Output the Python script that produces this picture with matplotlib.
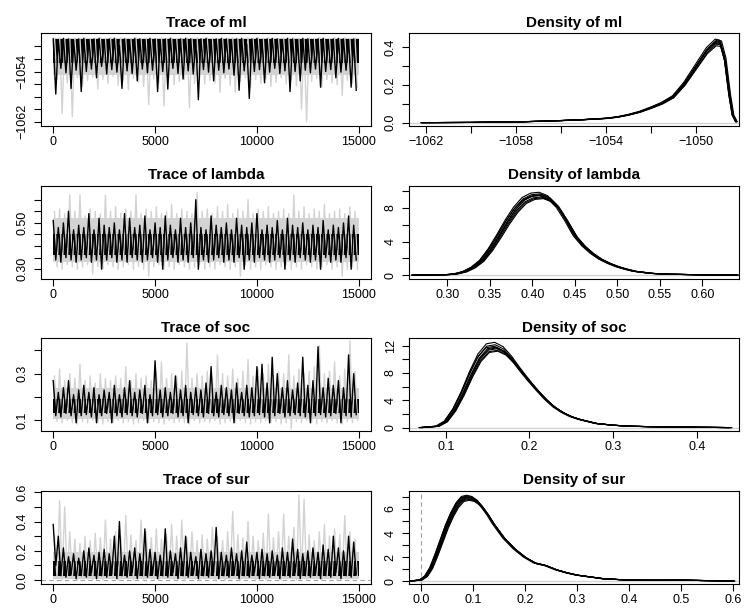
import numpy as np
import matplotlib
matplotlib.use("Agg")
import matplotlib.pyplot as plt
from matplotlib.ticker import FixedLocator, FixedFormatter

plt.rcParams['font.family'] = ['Liberation Sans', 'DejaVu Sans']

# MCMC traces: local high / low of each chain in 60 blocks of 250 iterations
N_ITER = 15000

ml_gray_hi = [-1048.7, -1048.6, -1048.7, -1048.8, -1048.6, -1048.7, -1048.6, -1048.7, -1048.8, -1048.6,
              -1048.7, -1048.6, -1048.7, -1048.6, -1048.8, -1048.7, -1048.6, -1048.7, -1048.6, -1048.7,
              -1048.8, -1048.6, -1048.7, -1048.6, -1048.7, -1048.8, -1048.6, -1048.7, -1048.6, -1048.7,
              -1048.6, -1048.7, -1048.8, -1048.6, -1048.7, -1048.6, -1048.7, -1048.8, -1048.6, -1048.7,
              -1048.6, -1048.7, -1048.6, -1048.8, -1048.7, -1048.6, -1048.7, -1048.6, -1048.7, -1048.8,
              -1048.6, -1048.7, -1048.6, -1048.7, -1048.8, -1048.6, -1048.7, -1048.6, -1048.7, -1048.6]
ml_gray_lo = [-1055.2, -1060.7, -1055.8, -1061.2, -1055.0, -1056.3, -1055.4, -1054.9, -1056.8, -1055.3,
              -1055.9, -1054.8, -1056.2, -1055.5, -1056.9, -1055.1, -1055.7, -1056.4, -1059.3, -1055.2,
              -1055.8, -1059.5, -1055.0, -1056.1, -1055.6, -1055.3, -1059.8, -1055.9, -1055.2, -1056.0,
              -1055.4, -1055.8, -1057.3, -1055.1, -1056.2, -1057.3, -1055.5, -1055.0, -1056.6, -1055.3,
              -1055.9, -1055.2, -1056.4, -1055.7, -1055.0, -1056.0, -1055.4, -1056.3, -1060.0, -1062.0,
              -1055.6, -1055.1, -1056.5, -1055.3, -1055.8, -1056.1, -1057.8, -1055.4, -1055.9, -1056.5]
ml_black_hi = [-1048.8, -1048.9, -1048.7, -1048.8, -1049.0, -1048.8, -1048.7, -1048.9, -1048.8, -1048.7,
               -1048.9, -1048.8, -1048.7, -1049.8, -1048.8, -1048.9, -1048.7, -1048.8, -1048.9, -1048.7,
               -1048.8, -1048.9, -1048.8, -1048.7, -1048.9, -1048.8, -1048.7, -1048.8, -1048.9, -1048.8,
               -1048.7, -1048.9, -1048.8, -1048.7, -1048.8, -1048.9, -1048.8, -1048.7, -1049.6, -1048.8,
               -1048.7, -1048.9, -1048.8, -1048.7, -1048.8, -1048.9, -1048.7, -1048.8, -1048.9, -1048.7,
               -1048.8, -1048.9, -1048.8, -1048.7, -1048.9, -1048.8, -1048.7, -1048.8, -1048.9, -1048.8]
ml_black_lo = [-1057.6, -1053.5, -1054.2, -1056.7, -1053.8, -1057.2, -1054.0, -1053.6, -1055.0, -1053.2,
               -1054.4, -1053.7, -1054.1, -1056.7, -1053.9, -1054.3, -1055.5, -1053.6, -1054.2, -1053.8,
               -1057.2, -1054.0, -1056.8, -1053.5, -1054.3, -1055.2, -1053.9, -1054.4, -1058.5, -1053.7,
               -1054.1, -1055.5, -1053.8, -1054.2, -1053.6, -1054.6, -1057.0, -1053.9, -1058.3, -1054.0,
               -1053.7, -1055.8, -1054.1, -1053.5, -1054.3, -1053.9, -1057.2, -1054.0, -1055.5, -1053.8,
               -1054.2, -1053.6, -1056.5, -1054.0, -1053.7, -1055.0, -1054.1, -1053.8, -1056.5, -1057.0]

lam_gray_hi = [0.55, 0.56, 0.54, 0.62, 0.55, 0.62, 0.53, 0.56, 0.55, 0.54,
               0.62, 0.55, 0.57, 0.54, 0.56, 0.55, 0.62, 0.54, 0.56, 0.55,
               0.57, 0.54, 0.55, 0.58, 0.54, 0.56, 0.55, 0.54, 0.63, 0.55,
               0.56, 0.54, 0.57, 0.55, 0.58, 0.54, 0.56, 0.55, 0.60, 0.54,
               0.56, 0.55, 0.57, 0.54, 0.55, 0.56, 0.54, 0.62, 0.55, 0.57,
               0.54, 0.56, 0.55, 0.58, 0.54, 0.55, 0.56, 0.54, 0.57, 0.55]
lam_gray_lo = [0.31, 0.30, 0.32, 0.31, 0.30, 0.31, 0.32, 0.28, 0.31, 0.30,
               0.32, 0.31, 0.30, 0.31, 0.32, 0.30, 0.31, 0.30, 0.27, 0.31,
               0.32, 0.30, 0.31, 0.30, 0.32, 0.31, 0.30, 0.31, 0.32, 0.30,
               0.31, 0.30, 0.32, 0.31, 0.30, 0.31, 0.27, 0.32, 0.30, 0.31,
               0.30, 0.32, 0.31, 0.30, 0.31, 0.32, 0.30, 0.31, 0.30, 0.32,
               0.31, 0.30, 0.31, 0.32, 0.30, 0.31, 0.27, 0.30, 0.31, 0.30]
lam_black_hi = [0.51, 0.48, 0.50, 0.55, 0.47, 0.49, 0.48, 0.54, 0.47, 0.52,
                0.49, 0.48, 0.50, 0.47, 0.54, 0.52, 0.48, 0.49, 0.53, 0.47,
                0.50, 0.48, 0.53, 0.49, 0.47, 0.52, 0.48, 0.50, 0.60, 0.48,
                0.47, 0.53, 0.49, 0.48, 0.50, 0.47, 0.52, 0.49, 0.48, 0.50,
                0.54, 0.47, 0.49, 0.48, 0.51, 0.47, 0.52, 0.49, 0.48, 0.50,
                0.47, 0.49, 0.48, 0.51, 0.47, 0.49, 0.48, 0.50, 0.53, 0.49]
lam_black_lo = [0.34, 0.33, 0.35, 0.34, 0.33, 0.34, 0.35, 0.33, 0.34, 0.30,
                0.34, 0.35, 0.33, 0.34, 0.33, 0.35, 0.34, 0.33, 0.34, 0.35,
                0.33, 0.30, 0.34, 0.35, 0.33, 0.34, 0.33, 0.35, 0.30, 0.34,
                0.33, 0.34, 0.35, 0.33, 0.34, 0.33, 0.35, 0.30, 0.34, 0.33,
                0.35, 0.34, 0.33, 0.34, 0.35, 0.30, 0.34, 0.33, 0.35, 0.34,
                0.33, 0.34, 0.30, 0.35, 0.33, 0.34, 0.33, 0.35, 0.30, 0.34]

soc_gray_hi = [0.29, 0.32, 0.27, 0.30, 0.28, 0.34, 0.27, 0.29, 0.26, 0.30,
               0.28, 0.27, 0.29, 0.28, 0.33, 0.27, 0.30, 0.28, 0.29, 0.27,
               0.31, 0.35, 0.28, 0.30, 0.29, 0.31, 0.43, 0.28, 0.30, 0.29,
               0.31, 0.28, 0.38, 0.30, 0.29, 0.32, 0.28, 0.31, 0.36, 0.29,
               0.32, 0.30, 0.34, 0.29, 0.31, 0.30, 0.38, 0.29, 0.32, 0.30,
               0.31, 0.33, 0.42, 0.30, 0.31, 0.35, 0.29, 0.32, 0.44, 0.31]
soc_gray_lo = [0.095, 0.09, 0.10, 0.09, 0.085, 0.095, 0.09, 0.10, 0.09, 0.085,
               0.095, 0.09, 0.10, 0.09, 0.095, 0.085, 0.09, 0.10, 0.09, 0.095,
               0.09, 0.085, 0.10, 0.09, 0.095, 0.09, 0.085, 0.10, 0.09, 0.095,
               0.09, 0.10, 0.085, 0.09, 0.095, 0.09, 0.10, 0.09, 0.085, 0.095,
               0.09, 0.10, 0.09, 0.095, 0.085, 0.09, 0.065, 0.095, 0.09, 0.10,
               0.09, 0.085, 0.095, 0.09, 0.10, 0.09, 0.085, 0.095, 0.09, 0.10]
soc_black_hi = [0.27, 0.22, 0.24, 0.27, 0.21, 0.23, 0.25, 0.22, 0.24, 0.21,
                0.23, 0.22, 0.25, 0.21, 0.24, 0.27, 0.22, 0.23, 0.25, 0.21,
                0.355, 0.23, 0.24, 0.22, 0.29, 0.23, 0.25, 0.22, 0.24, 0.23,
                0.26, 0.33, 0.22, 0.25, 0.24, 0.23, 0.26, 0.22, 0.25, 0.24,
                0.33, 0.34, 0.26, 0.37, 0.30, 0.24, 0.27, 0.23, 0.26, 0.37,
                0.25, 0.27, 0.415, 0.24, 0.28, 0.25, 0.27, 0.24, 0.38, 0.30]
soc_black_lo = [0.12, 0.115, 0.13, 0.12, 0.09, 0.12, 0.125, 0.115, 0.09, 0.12,
                0.13, 0.09, 0.12, 0.115, 0.125, 0.12, 0.115, 0.13, 0.09, 0.12,
                0.125, 0.115, 0.12, 0.13, 0.115, 0.12, 0.09, 0.125, 0.12, 0.115,
                0.13, 0.12, 0.115, 0.125, 0.12, 0.09, 0.13, 0.12, 0.115, 0.12,
                0.125, 0.115, 0.09, 0.12, 0.13, 0.115, 0.12, 0.125, 0.12, 0.115,
                0.09, 0.12, 0.125, 0.115, 0.12, 0.13, 0.09, 0.12, 0.115, 0.125]

sur_gray_hi = [0.30, 0.54, 0.50, 0.33, 0.28, 0.25, 0.30, 0.27, 0.32, 0.29,
               0.41, 0.28, 0.33, 0.30, 0.44, 0.31, 0.27, 0.41, 0.33, 0.29,
               0.35, 0.28, 0.31, 0.38, 0.30, 0.41, 0.29, 0.33, 0.27, 0.31,
               0.28, 0.36, 0.30, 0.27, 0.33, 0.47, 0.31, 0.29, 0.40, 0.30,
               0.27, 0.32, 0.45, 0.29, 0.33, 0.45, 0.30, 0.36, 0.58, 0.55,
               0.31, 0.27, 0.33, 0.38, 0.30, 0.35, 0.31, 0.44, 0.33, 0.28]
sur_gray_lo = [0.01, 0.00, 0.02, 0.01, 0.00, 0.01, 0.02, 0.00, 0.01, 0.00,
               0.02, 0.01, 0.00, 0.01, 0.02, 0.00, 0.01, 0.00, 0.02, 0.01,
               0.00, 0.01, 0.02, 0.00, 0.01, 0.00, 0.02, 0.01, 0.00, 0.01,
               0.02, 0.00, 0.01, 0.00, 0.02, 0.01, 0.00, 0.01, 0.02, 0.00,
               0.01, 0.00, 0.02, 0.01, 0.00, 0.01, 0.02, 0.00, 0.01, 0.00,
               0.02, 0.01, 0.00, 0.01, 0.02, 0.00, 0.01, 0.00, 0.02, 0.01]
sur_black_hi = [0.38, 0.30, 0.22, 0.16, 0.18, 0.15, 0.20, 0.22, 0.17, 0.19,
                0.21, 0.18, 0.30, 0.40, 0.17, 0.20, 0.22, 0.18, 0.35, 0.21,
                0.19, 0.17, 0.35, 0.20, 0.18, 0.22, 0.30, 0.19, 0.16, 0.21,
                0.18, 0.20, 0.36, 0.19, 0.17, 0.22, 0.18, 0.20, 0.26, 0.17,
                0.19, 0.21, 0.18, 0.20, 0.17, 0.22, 0.19, 0.28, 0.21, 0.18,
                0.20, 0.22, 0.19, 0.24, 0.21, 0.30, 0.22, 0.20, 0.30, 0.26]
sur_black_lo = [0.10, 0.03, 0.02, 0.04, 0.01, 0.03, 0.02, 0.05, 0.01, 0.03,
                0.02, 0.04, 0.01, 0.03, 0.02, 0.05, 0.01, 0.03, 0.02, 0.04,
                0.01, 0.03, 0.02, 0.05, 0.01, 0.03, 0.02, 0.04, 0.01, 0.03,
                0.02, 0.05, 0.01, 0.03, 0.02, 0.04, 0.01, 0.03, 0.02, 0.05,
                0.01, 0.03, 0.02, 0.04, 0.01, 0.03, 0.02, 0.05, 0.01, 0.03,
                0.02, 0.04, 0.01, 0.03, 0.02, 0.05, 0.01, 0.03, 0.02, 0.04]

# range where each chain is dense enough to look solid (low, high)
ml_gray_body = (-1054.6, -1048.7)
ml_black_body = (-1052.6, -1048.8)
lam_gray_body = (0.33, 0.52)
lam_black_body = (0.36, 0.45)
soc_gray_body = (0.105, 0.24)
soc_black_body = (0.13, 0.19)
sur_gray_body = (0.01, 0.19)
sur_black_body = (0.03, 0.13)

# posterior density curves (x, y) read from the right column
ml_dx = [-1062.2, -1060, -1058, -1057, -1056, -1055, -1054, -1053.5, -1053, -1052.5, -1052,
         -1051.5, -1051, -1050.5, -1050, -1049.5, -1049.1, -1048.9, -1048.7, -1048.5, -1048.35, -1048.2]
ml_dy = [0.0, 0.001, 0.004, 0.007, 0.011, 0.016, 0.023, 0.03, 0.042, 0.058, 0.08,
         0.105, 0.14, 0.21, 0.30, 0.39, 0.435, 0.43, 0.34, 0.15, 0.04, 0.005]
lam_dx = [0.26, 0.28, 0.30, 0.31, 0.32, 0.33, 0.34, 0.35, 0.36, 0.37, 0.38, 0.39, 0.40, 0.41,
          0.42, 0.43, 0.44, 0.45, 0.46, 0.47, 0.48, 0.49, 0.50, 0.51, 0.52, 0.54, 0.56, 0.60, 0.64]
lam_dy = [0.0, 0.01, 0.05, 0.15, 0.4, 0.9, 1.7, 3.0, 4.6, 6.3, 7.8, 8.9, 9.4, 9.5,
          9.1, 8.1, 6.5, 4.7, 3.5, 2.6, 1.9, 1.4, 1.0, 0.7, 0.45, 0.2, 0.1, 0.03, 0.0]
soc_dx = [0.07, 0.09, 0.10, 0.11, 0.12, 0.13, 0.14, 0.15, 0.16, 0.17, 0.18, 0.19, 0.20, 0.21,
          0.22, 0.23, 0.24, 0.25, 0.26, 0.27, 0.28, 0.30, 0.32, 0.35, 0.40, 0.44]
soc_dy = [0.0, 0.2, 0.9, 2.6, 5.0, 7.8, 10.2, 11.6, 11.8, 11.2, 9.9, 8.3, 6.8, 5.4,
          4.1, 3.0, 2.2, 1.6, 1.2, 0.9, 0.6, 0.35, 0.2, 0.12, 0.05, 0.0]
sur_dx = [-0.02, 0.0, 0.01, 0.02, 0.03, 0.04, 0.05, 0.06, 0.07, 0.08, 0.09, 0.10, 0.11, 0.12,
          0.13, 0.14, 0.15, 0.16, 0.18, 0.20, 0.22, 0.24, 0.26, 0.28, 0.30, 0.35, 0.40, 0.45,
          0.50, 0.55, 0.60]
sur_dy = [0.0, 0.1, 0.4, 1.1, 2.2, 3.4, 4.6, 5.6, 6.4, 6.9, 7.0, 6.9, 6.6, 6.1,
          5.5, 4.8, 4.2, 3.6, 2.7, 2.0, 1.5, 1.3, 0.95, 0.7, 0.5, 0.2, 0.08, 0.07,
          0.08, 0.04, 0.0]

# spread of the individual chain curves (x shift, height factor)
ml_shift = [0.0, 0.03, -0.03, 0.02, -0.02, 0.05, -0.01, 0.01]
ml_scale = [1.0, 0.96, 1.02, 0.94, 0.98, 1.01, 0.97, 0.99]
lam_shift = [0.0, 0.002, -0.002, 0.001, -0.001, 0.003, -0.002, 0.001]
lam_scale = [1.0, 0.97, 1.04, 0.98, 1.02, 0.96, 1.0, 1.01]
soc_shift = [0.0, 0.0015, -0.0015, 0.001, -0.001, 0.002, -0.002, 0.0005]
soc_scale = [1.0, 0.96, 1.06, 0.98, 1.03, 0.95, 1.01, 0.99]
sur_shift = [0.0, 0.002, -0.002, 0.001, -0.001, 0.003, -0.003, 0.001]
sur_scale = [1.0, 0.97, 1.02, 0.99, 1.01, 0.96, 1.0, 0.98]

GRAY = '#d3d3d3'
W, H = 744, 613
fig = plt.figure(figsize=(W / 100, H / 100), dpi=100)


def make_ax(col, row):
    left = 41 if col == 0 else 409
    top = 33.3 + 152.5 * row
    return fig.add_axes([left / W, 1 - (top + 92.7) / H, 330 / W, 92.7 / H])


def style(ax, title, xticks, xlabels, yticks, ylabels):
    ax.set_title(title, fontsize=11, fontweight='bold', pad=4.6)
    ax.xaxis.set_major_locator(FixedLocator(xticks))
    ax.xaxis.set_major_formatter(FixedFormatter(xlabels))
    ax.yaxis.set_major_locator(FixedLocator(yticks))
    ax.yaxis.set_major_formatter(FixedFormatter(ylabels))
    ax.tick_params(direction='out', length=4.8, width=0.8, labelsize=9, pad=2.5)
    ax.tick_params(axis='y', labelrotation=90, pad=4)
    for lbl in ax.get_yticklabels():
        lbl.set_va('center')
    for s in ax.spines.values():
        s.set_linewidth(0.8)


def trace(ax, chains):
    # chains: list of (hi, lo, body, colour, offset in blocks)
    for hi, lo, body, col, off in chains:
        n = len(hi)
        y = np.empty(2 * n)
        y[0::2] = hi
        y[1::2] = lo
        step = N_ITER / n
        it = np.clip((np.arange(2 * n) / 2 + off) * step, 0, N_ITER)
        ax.fill_between([0, N_ITER], body[0], body[1], color=col, lw=0)
        ax.plot(it, y, color=col, lw=1.0)
    ax.set_xlim(-600, 15600)


def density(ax, dx, dy, shifts, scales):
    ax.axhline(0, color=GRAY, lw=1)
    dx = np.array(dx)
    dy = np.array(dy)
    for sh, sc in zip(shifts, scales):
        ax.plot(dx + sh, dy * sc, color='black', lw=0.8)


trace_xt = [0, 5000, 10000, 15000]
trace_xl = ['0', '5000', '10000', '15000']

# ml
ax = make_ax(0, 0)
trace(ax, [(ml_gray_hi, ml_gray_lo, ml_gray_body, GRAY, 0.25),
           (ml_black_hi, ml_black_lo, ml_black_body, 'black', 0.0)])
ax.set_ylim(-1062.7, -1047.9)
style(ax, 'Trace of ml', trace_xt, trace_xl,
      [-1062, -1060, -1058, -1056, -1054, -1052, -1050],
      ['\u22121062', '', '', '', '\u22121054', '', ''])
ax = make_ax(1, 0)
density(ax, ml_dx, ml_dy, ml_shift, ml_scale)
ax.set_xlim(-1062.76, -1048.07)
ax.set_ylim(-0.018, 0.475)
style(ax, 'Density of ml', [-1062, -1060, -1058, -1056, -1054, -1052, -1050],
      ['\u22121062', '', '\u22121058', '', '\u22121054', '', '\u22121050'],
      [0, 0.1, 0.2, 0.3, 0.4], ['0.0', '', '0.2', '', '0.4'])

# lambda
ax = make_ax(0, 1)
trace(ax, [(lam_gray_hi, lam_gray_lo, lam_gray_body, GRAY, 0.25),
           (lam_black_hi, lam_black_lo, lam_black_body, 'black', 0.0)])
ax.set_ylim(0.26, 0.66)
style(ax, 'Trace of lambda', trace_xt, trace_xl,
      [0.30, 0.35, 0.40, 0.45, 0.50, 0.55, 0.60], ['0.30', '', '', '', '0.50', '', ''])
ax = make_ax(1, 1)
density(ax, lam_dx, lam_dy, lam_shift, lam_scale)
ax.set_xlim(0.255, 0.643)
ax.set_ylim(-0.41, 10.65)
style(ax, 'Density of lambda', [0.30, 0.35, 0.40, 0.45, 0.50, 0.55, 0.60],
      ['0.30', '0.35', '0.40', '0.45', '0.50', '0.55', '0.60'],
      [0, 2, 4, 6, 8, 10], ['0', '', '4', '', '8', ''])

# soc
ax = make_ax(0, 2)
trace(ax, [(soc_gray_hi, soc_gray_lo, soc_gray_body, GRAY, 0.25),
           (soc_black_hi, soc_black_lo, soc_black_body, 'black', 0.0)])
ax.set_ylim(0.055, 0.451)
style(ax, 'Trace of soc', trace_xt, trace_xl, [0.1, 0.2, 0.3, 0.4], ['0.1', '', '0.3', ''])
ax = make_ax(1, 2)
density(ax, soc_dx, soc_dy, soc_shift, soc_scale)
ax.set_xlim(0.056, 0.4505)
ax.set_ylim(-0.5, 13.1)
style(ax, 'Density of soc', [0.1, 0.2, 0.3, 0.4], ['0.1', '0.2', '0.3', '0.4'],
      [0, 2, 4, 6, 8, 10, 12], ['0', '', '4', '', '8', '', '12'])

# sur
ax = make_ax(0, 3)
ax.axhline(0, color='#a0a0a0', lw=0.8, ls=(0, (4, 3)))
trace(ax, [(sur_gray_hi, sur_gray_lo, sur_gray_body, GRAY, 0.25),
           (sur_black_hi, sur_black_lo, sur_black_body, 'black', 0.0)])
ax.set_ylim(-0.023, 0.61)
style(ax, 'Trace of sur', trace_xt, trace_xl,
      [0.0, 0.1, 0.2, 0.3, 0.4, 0.5, 0.6], ['0.0', '', '0.2', '', '0.4', '', '0.6'])
ax = make_ax(1, 3)
ax.axvline(0, color='#a0a0a0', lw=0.8, ls=(0, (4, 3)))
density(ax, sur_dx, sur_dy, sur_shift, sur_scale)
ax.set_xlim(-0.0225, 0.611)
ax.set_ylim(-0.2, 7.51)
style(ax, 'Density of sur', [0.0, 0.1, 0.2, 0.3, 0.4, 0.5, 0.6],
      ['0.0', '0.1', '0.2', '0.3', '0.4', '0.5', '0.6'],
      [0, 1, 2, 3, 4, 5, 6, 7], ['0', '', '2', '', '4', '', '6', ''])

fig.savefig('out.png', dpi=100)
